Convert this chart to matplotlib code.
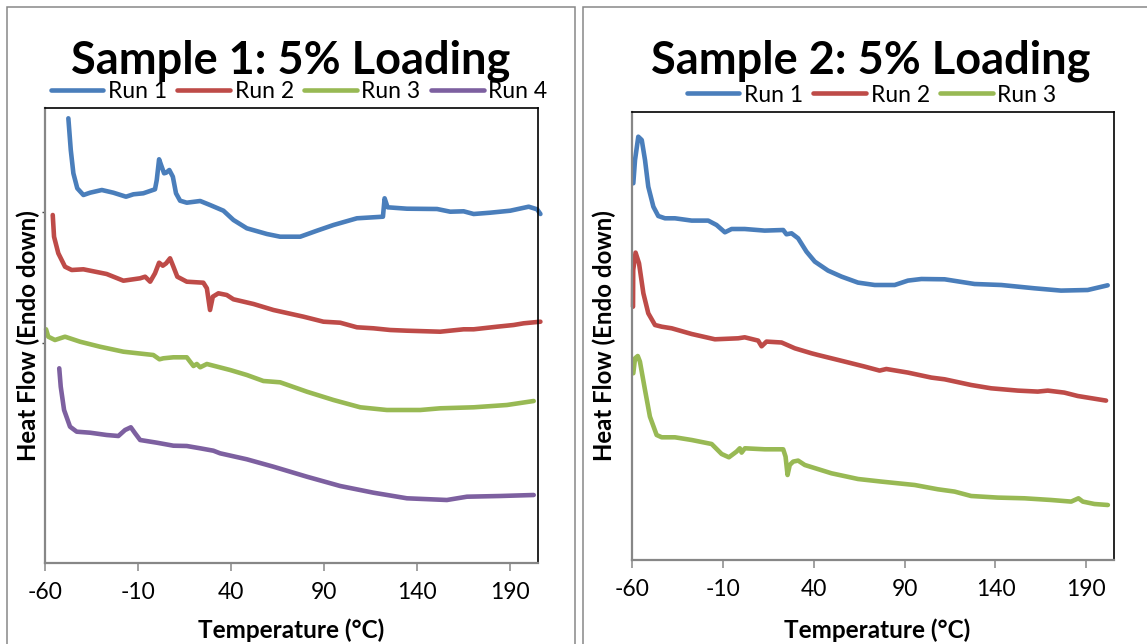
import matplotlib.pyplot as plt
from matplotlib.patches import Rectangle

plt.rcParams['font.family'] = ['Lato', 'DejaVu Sans']

# heat flow is in arbitrary units (endo down)
s1_run1_t = [-47.6, -46.3, -44.9, -42.8, -39.5, -35.9, -29.6, -23.4, -16.6, -12.6, -7.3, -1.0, -0.05, 1.2,
             2.6, 3.9, 5.0, 6.7, 8.6, 10.3, 12.5, 16.1, 23.3, 28.6, 35.8, 41.2, 48.4, 59.2, 66.3, 77.1,
             86.1, 95.0, 107.6, 121.6, 122.5, 124.1, 134.5, 150.7, 157.8, 165.0, 170.4, 179.3, 190.1,
             200.0, 204.5, 206.3]
s1_run1_v = [44.44, 41.27, 38.94, 37.44, 36.77, 37.0, 37.27, 37.0, 36.6, 36.84, 36.94, 37.34, 38.27, 40.34,
             39.6, 38.94, 39.0, 39.27, 38.6, 36.94, 36.2, 36.0, 36.17, 35.77, 35.2, 34.27, 33.44, 32.87, 32.6,
             32.6, 33.2, 33.77, 34.44, 34.6, 36.44, 35.54, 35.4, 35.37, 35.1, 35.14, 34.87, 35.0, 35.2,
             35.6, 35.34, 34.87]

s1_run2_t = [-56.0, -55.3, -53.0, -49.4, -45.8, -39.5, -27.0, -18.0, -9.0, -6.3, -3.6, -1.0, 1.2, 3.2, 5.0,
             7.1, 8.9, 11.0, 16.1, 25.0, 26.9, 28.6, 30.1, 33.1, 37.6, 41.2, 52.0, 62.7, 78.9, 89.6, 98.6,
             107.6, 116.5, 125.5, 134.5, 152.4, 165.0, 170.4, 183.0, 191.9, 197.3, 206.3]
s1_run2_v = [34.77, 32.6, 30.94, 29.6, 29.27, 29.34, 28.87, 28.2, 28.44, 28.6, 28.1, 28.94, 30.0, 29.7, 29.94,
             30.44, 29.6, 28.6, 28.1, 28.0, 27.44, 25.27, 26.6, 26.94, 26.77, 26.34, 25.87, 25.27, 24.6, 24.1,
             24.0, 23.54, 23.44, 23.27, 23.2, 23.1, 23.34, 23.34, 23.6, 23.77, 23.94, 24.1]

s1_run3_t = [-59.6, -58.4, -54.8, -49.4, -41.3, -30.6, -18.0, -1.9, 1.4, 3.5, 8.9, 16.1, 17.9, 19.7, 21.5,
             23.3, 26.9, 39.4, 48.4, 57.3, 66.3, 80.7, 95.0, 109.4, 123.7, 141.7, 152.4, 170.4, 188.3, 202.7]
s1_run3_v = [23.34, 22.6, 22.27, 22.6, 22.1, 21.6, 21.1, 20.77, 20.34, 20.44, 20.54, 20.54, 20.1, 19.67, 19.87,
             19.54, 19.87, 19.27, 18.77, 18.17, 18.04, 17.1, 16.27, 15.54, 15.27, 15.27, 15.44, 15.54, 15.77, 16.17]

s1_run4_t = [-52.5, -51.7, -49.9, -46.7, -43.1, -35.9, -27.0, -20.7, -17.1, -14.0, -11.7, -9.0, 0.0, 8.9,
             16.1, 23.3, 30.4, 34.0, 48.4, 62.7, 80.7, 98.6, 116.5, 134.5, 156.0, 166.8, 184.7, 202.7]
s1_run4_v = [19.44, 17.6, 15.27, 13.6, 13.1, 13.0, 12.77, 12.67, 13.27, 13.54, 12.94, 12.27, 12.0, 11.7,
             11.67, 11.44, 11.2, 10.94, 10.34, 9.6, 8.6, 7.67, 7.0, 6.44, 6.27, 6.6, 6.67, 6.77]

s2_run1_t = [-59.45, -58.5, -56.7, -54.8, -53.0, -51.2, -48.4, -45.7, -42.0, -36.5, -27.3, -18.2, -13.6, -9.0,
             -5.3, 1.9, 12.9, 23.1, 24.9, 27.7, 31.3, 35.9, 40.5, 47.8, 55.2, 64.3, 73.5, 84.5, 91.8, 99.2,
             112.0, 128.5, 143.2, 161.5, 176.1, 190.8, 201.8]
s2_run1_v = [37.67, 40.0, 42.33, 42.0, 40.0, 37.33, 35.33, 34.4, 34.17, 34.17, 33.94, 33.94, 33.5, 32.77,
             33.1, 33.1, 32.94, 33.0, 32.57, 32.67, 32.17, 30.84, 29.84, 28.94, 28.34, 27.74, 27.5, 27.5, 27.94,
             28.1, 28.07, 27.6, 27.5, 27.17, 26.94, 27.0, 27.47]

s2_run2_t = [-59.6, -59.5, -58.2, -56.3, -53.9, -51.2, -47.5, -43.8, -38.3, -27.3, -14.5, -1.7, 1.9, 9.3, 11.2,
             13.9, 22.2, 29.5, 38.7, 42.3, 57.0, 68.0, 76.2, 79.9, 91.8, 104.7, 112.0, 126.6, 137.6, 152.3,
             163.3, 168.8, 177.9, 185.3, 200.9]
s2_run2_v = [25.33, 29.0, 30.74, 29.67, 26.67, 24.67, 23.5, 23.33, 23.17, 22.6, 22.07, 22.17, 22.27, 21.94, 21.37,
             21.84, 21.75, 21.17, 20.67, 20.5, 19.84, 19.34, 18.94, 19.1, 18.74, 18.24, 18.07, 17.5, 17.17, 16.94,
             16.84, 16.94, 16.74, 16.4, 15.94]

s2_run3_t = [-59.45, -58.5, -57.0, -55.8, -53.0, -50.3, -46.6, -43.8, -36.5, -27.3, -16.3, -10.8, -6.8, -2.6,
             -0.8, 0.2, 2.0, 13.0, 23.1, 24.4, 25.5, 26.7, 28.6, 31.3, 35.0, 49.7, 64.3, 77.2, 95.5, 108.3,
             117.5, 126.6, 141.3, 156.0, 170.7, 181.7, 185.7, 188.1, 194.5, 201.9]
s2_run3_v = [18.67, 20.17, 20.4, 19.84, 17.0, 14.34, 12.5, 12.27, 12.27, 12.0, 11.6, 10.6, 10.27, 10.84,
             11.17, 10.74, 11.17, 11.07, 11.07, 10.34, 8.5, 9.5, 9.84, 9.94, 9.5, 8.67, 8.1, 7.84, 7.5, 7.07,
             6.84, 6.4, 6.24, 6.17, 6.0, 5.84, 6.17, 5.84, 5.6, 5.5]

run_names = ['Run 1', 'Run 2', 'Run 3', 'Run 4']
run_colors = ['#4A7EBB', '#BE4B48', '#98B954', '#7D60A0']
x_ticks = [-60, -10, 40, 90, 140, 190]

W, H = 1147, 644
fig = plt.figure(figsize=(W / 100, H / 100), dpi=100)

# the two gray chart frames
fig.patches.append(Rectangle((7.3 / W, -0.05), (575 - 7.3) / W, 1.05 - 7.3 / H, transform=fig.transFigure,
                             fill=False, ec='#878787', lw=1.1))
fig.patches.append(Rectangle((582.7 / W, -0.05), 0.5, 1.05 - 7.3 / H, transform=fig.transFigure,
                             fill=False, ec='#878787', lw=1.1))


def px_box(x0, x1, y0, y1):
    return [x0 / W, 1 - y1 / H, (x1 - x0) / W, (y1 - y0) / H]


def draw_panel(box, ymax, series, title, title_x, leg_x, leg_y, xlab_x, ylab_x, yticks):
    ax = fig.add_axes(px_box(*box))
    for i, (t, v) in enumerate(series):
        ax.plot(t, v, color=run_colors[i], lw=3.3, label=run_names[i],
                solid_capstyle='round', solid_joinstyle='round', clip_on=False)
    ax.set_xlim(-60, 205)
    ax.set_ylim(0, ymax)
    ax.set_xticks(x_ticks)
    ax.set_xticklabels([str(t) for t in x_ticks])
    ax.set_yticks(yticks)
    ax.set_yticklabels([])
    ax.tick_params(axis='x', direction='out', length=5.8, width=1.1, color='#878787',
                   labelsize=16.5, pad=8)
    ax.tick_params(axis='y', direction='out', length=2.5, width=1.0, color='#404040')
    for s in ('left', 'bottom'):
        ax.spines[s].set_color('#878787')
        ax.spines[s].set_linewidth(1.6)
    for s in ('top', 'right'):
        ax.spines[s].set_color('black')
        ax.spines[s].set_linewidth(1.2)
    fig.text(title_x / W, 1 - 74 / H, title, ha='center', va='baseline', fontsize=32.5, fontweight='bold')
    fig.text(xlab_x / W, 1 - 638 / H, 'Temperature (°C)', ha='center', va='baseline',
             fontsize=17.5, fontweight='bold')
    fig.text(ylab_x / W, 1 - 335.5 / H, 'Heat Flow (Endo down)', ha='center', va='center',
             rotation=90, fontsize=17.3, fontweight='bold')
    ax.legend(loc='center', bbox_to_anchor=(leg_x / W, 1 - leg_y / H), bbox_transform=fig.transFigure,
              ncol=len(series), frameon=False, fontsize=16.5, handlelength=2.3, handletextpad=0.2,
              columnspacing=0.45, borderpad=0, borderaxespad=0)
    return ax


draw_panel((45.3, 538, 108.3, 562.7), 45.44,
           [(s1_run1_t, s1_run1_v), (s1_run2_t, s1_run2_v), (s1_run3_t, s1_run3_v), (s1_run4_t, s1_run4_v)],
           'Sample 1: 5% Loading', 290.5, 299, 91.7, 290.7, 28.5, [22.0, 35.1])
draw_panel((632.3, 1113.5, 111.7, 560), 44.83,
           [(s2_run1_t, s2_run1_v), (s2_run2_t, s2_run2_v), (s2_run3_t, s2_run3_v)],
           'Sample 2: 5% Loading', 871, 871.5, 95, 877, 604, [])

fig.savefig('out.png', dpi=100)
